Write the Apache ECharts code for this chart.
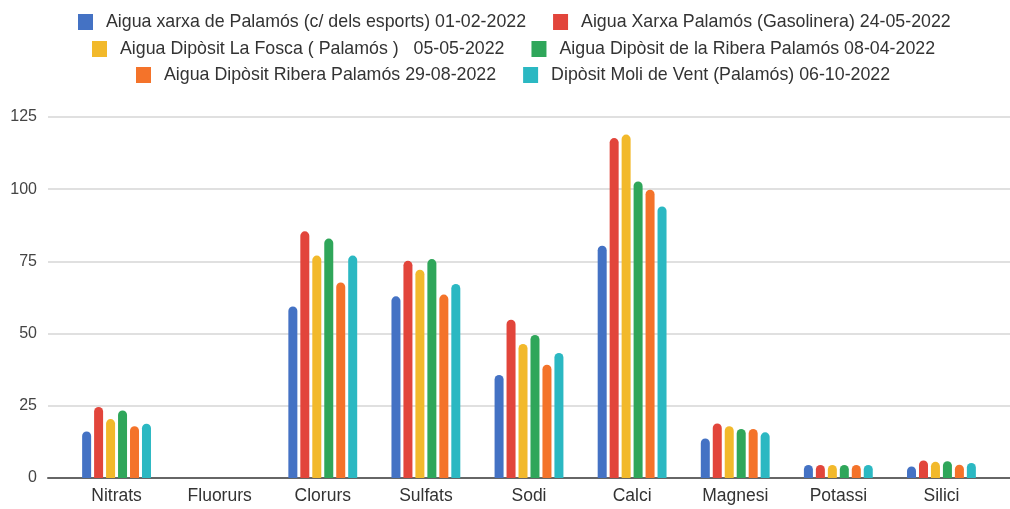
<!DOCTYPE html>
<html>
<head>
<meta charset="utf-8">
<script src="https://cdn.jsdelivr.net/npm/echarts@6/dist/echarts.min.js"></script>
<style>html,body{margin:0;padding:0;background:#fff;}#c{width:1010px;height:509px;}</style>
</head>
<body>
<div id="c"></div>
<script>
var categories = ['Nitrats','Fluorurs','Clorurs','Sulfats','Sodi','Calci','Magnesi','Potassi','Silici'];
var seriesNames = [
  'Aigua xarxa de Palamós (c/ dels esports) 01-02-2022',
  'Aigua Xarxa Palamós (Gasolinera) 24-05-2022',
  'Aigua Dipòsit La Fosca ( Palamós )   05-05-2022',
  'Aigua Dipòsit de la Ribera Palamós 08-04-2022',
  'Aigua Dipòsit Ribera Palamós 29-08-2022',
  'Dipòsit Moli de Vent (Palamós) 06-10-2022'
];
var colors = ['#4472c4','#e2453b','#f2b92b','#2fa65a','#f4732a','#2bb8c2'];
var s1 = [16.1, 0, 59.4, 62.9, 35.7, 80.4, 13.7, 4.5, 4.0];
var s2 = [24.6, 0, 85.4, 75.2, 54.8, 117.7, 18.9, 4.5, 6.1];
var s3 = [20.4, 0, 77.0, 72.1, 46.4, 118.9, 17.9, 4.5, 5.6];
var s4 = [23.4, 0, 82.9, 75.8, 49.5, 102.7, 17.0, 4.5, 5.8];
var s5 = [17.9, 0, 67.7, 63.5, 39.2, 99.8, 17.0, 4.5, 4.6];
var s6 = [18.8, 0, 77.0, 67.2, 43.3, 94.0, 15.8, 4.5, 5.2];
var yTicks = {min: 0, max: 125, interval: 25};

var allData = [s1, s2, s3, s4, s5, s6];
var font = '"Liberation Sans", Arial, sans-serif';

function legendRow(names, left, top) {
  return {
    left: left, top: top, orient: 'horizontal',
    padding: 0,
    itemWidth: 15, itemHeight: 16, itemGap: 27, icon: 'rect',
    selectedMode: false,
    textStyle: {fontFamily: font, fontSize: 17.8, color: '#333', lineHeight: 18, padding: [0, 0, 0, 8]},
    data: names
  };
}

var series = allData.map(function (d, i) {
  return {
    name: seriesNames[i], type: 'bar', xAxisIndex: 0, yAxisIndex: 0,
    data: d, barWidth: 9, barGap: '33%',
    itemStyle: {color: colors[i], borderRadius: [4.5, 4.5, 0, 0]},
    z: 3
  };
});

var option = {
  animation: false,
  color: colors,
  legend: [
    legendRow([seriesNames[0], seriesNames[1]], 78, 13),
    legendRow([seriesNames[2], seriesNames[3]], 92, 40),
    legendRow([seriesNames[4], seriesNames[5]], 136, 66)
  ],
  grid: [
    {left: 65, right: 17, top: 117, bottom: 31},
    {left: 48, right: 0, top: 117, bottom: 31}
  ],
  xAxis: [
    {
      gridIndex: 0, type: 'category', data: categories,
      axisLine: {show: false}, axisTick: {show: false},
      axisLabel: {fontFamily: font, fontSize: 17.5, color: '#333', margin: 9}
    },
    {
      gridIndex: 1, type: 'value', min: 0, max: 1,
      axisLine: {show: true, lineStyle: {color: '#666', width: 2}},
      axisTick: {show: false}, axisLabel: {show: false}, splitLine: {show: false}, z: 2
    }
  ],
  yAxis: [
    {
      gridIndex: 0, type: 'value', min: yTicks.min, max: yTicks.max, interval: yTicks.interval,
      axisLine: {show: false}, axisTick: {show: false}, axisLabel: {show: false}, splitLine: {show: false}
    },
    {
      gridIndex: 1, type: 'value', min: yTicks.min, max: yTicks.max, interval: yTicks.interval,
      axisLine: {show: false}, axisTick: {show: false},
      axisLabel: {fontFamily: font, fontSize: 16, color: '#444', margin: 11},
      splitLine: {show: true, lineStyle: {color: '#d6d6d6', width: 1.5}}
    }
  ],
  series: series
};

var chart = echarts.init(document.getElementById('c'), null, {renderer: 'canvas'});
chart.setOption(option);
</script>
</body>
</html>
